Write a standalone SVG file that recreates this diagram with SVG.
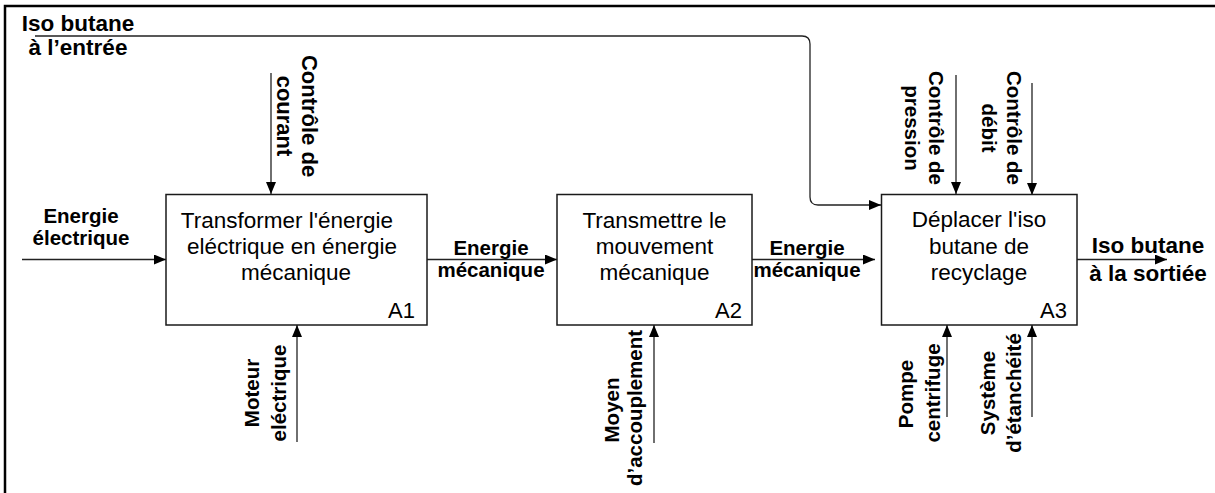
<svg xmlns="http://www.w3.org/2000/svg" width="1215" height="493" viewBox="0 0 1215 493">
  <defs>
    <marker id="arrow" markerUnits="userSpaceOnUse" markerWidth="12" markerHeight="10" refX="12" refY="5" orient="auto">
      <path d="M0,0 L12,5 L0,10 Z" fill="#000"/>
    </marker>
    <style>
      .frame { fill: none; stroke: #000; stroke-width: 2.5; }
      .box { fill: #fff; stroke: #1a1a1a; stroke-width: 1.5; }
      .conn { fill: none; stroke: #222; stroke-width: 1.3; marker-end: url(#arrow); }
      .t { font-family: "Liberation Sans", Arial, sans-serif; fill: #000; }
      .fn { font-size: 22.5px; text-anchor: middle; }
      .num { font-size: 22px; text-anchor: end; }
      .lbl { font-weight: bold; text-anchor: middle; }
      .big { font-size: 22.5px; }
      .mid { font-size: 20.5px; }
      .rot { font-size: 20.5px; }
    </style>
  </defs>

  <rect width="1215" height="493" fill="#fff"/>
  <!-- sheet frame (top and left edges) -->
  <path class="frame" d="M5,493 V6 H1215"/>

  <!-- connectors -->
  <g id="connectors">
    <!-- inputs / outputs -->
    <path class="conn" d="M35,36 H802 Q810,36 810,44 V197 Q810,205 818,205 H881"/>
    <path class="conn" d="M22,259.5 H166"/>
    <path class="conn" d="M427,259.5 H557"/>
    <path class="conn" d="M752,259.5 H875"/>
    <path class="conn" d="M1077,259.5 H1167"/>
    <!-- controls -->
    <path class="conn" d="M271,73 V194"/>
    <path class="conn" d="M956,75 V194"/>
    <path class="conn" d="M1032,83 V195"/>
    <!-- mechanisms -->
    <path class="conn" d="M297,442 V325"/>
    <path class="conn" d="M654,443 V325"/>
    <path class="conn" d="M947,417 V325"/>
    <path class="conn" d="M1032,417 V325"/>

    <!-- connector labels -->
    <g class="t lbl big">
      <text x="78" y="31">Iso butane</text>
      <text x="78" y="55">à l’entrée</text>
      <text x="1148" y="253">Iso butane</text>
      <text x="1148" y="281">à la sortiée</text>
    </g>
    <g class="t lbl mid">
      <text x="81" y="223">Energie</text>
      <text x="81" y="245">électrique</text>
      <text x="491" y="255">Energie</text>
      <text x="491" y="277">mécanique</text>
      <text x="807" y="255">Energie</text>
      <text x="807" y="277">mécanique</text>
    </g>
    <!-- vertical labels reading downwards (controls) -->
    <g class="t lbl">
      <text transform="translate(302,116) rotate(90)" font-size="22px">Contrôle de</text>
      <text transform="translate(277,116) rotate(90)" font-size="22px">courant</text>
      <text class="rot" transform="translate(928.5,128) rotate(90)">Contrôle de</text>
      <text class="rot" transform="translate(904.5,128) rotate(90)">pression</text>
      <text class="rot" transform="translate(1006.5,128) rotate(90)">Contrôle de</text>
      <text class="rot" transform="translate(982,128) rotate(90)">débit</text>
    </g>
    <!-- vertical labels reading upwards (mechanisms) -->
    <g class="t lbl rot">
      <text transform="translate(258.5,393) rotate(-90)">Moteur</text>
      <text transform="translate(285.5,393) rotate(-90)">eléctrique</text>
      <text transform="translate(619,410) rotate(-90)">Moyen</text>
      <text transform="translate(641.5,408) rotate(-90)">d’accouplement</text>
      <text transform="translate(913,394) rotate(-90)">Pompe</text>
      <text transform="translate(939.5,393) rotate(-90)">centrifuge</text>
      <text transform="translate(995,393) rotate(-90)">Système</text>
      <text transform="translate(1021,393) rotate(-90)">d’étanchéité</text>
    </g>
  </g>

  <!-- activity A1 -->
  <g id="A1">
    <rect class="box" x="166" y="194.5" width="261" height="130.5"/>
    <text class="t fn" x="287" y="228">Transformer l'énergie</text>
    <text class="t fn" x="292" y="254">eléctrique en énergie</text>
    <text class="t fn" x="296" y="280">mécanique</text>
    <text class="t num" x="415" y="318">A1</text>
  </g>

  <!-- activity A2 -->
  <g id="A2">
    <rect class="box" x="557" y="194.5" width="195" height="130.5"/>
    <text class="t fn" x="654.5" y="228">Transmettre le</text>
    <text class="t fn" x="654.5" y="254">mouvement</text>
    <text class="t fn" x="654.5" y="280">mécanique</text>
    <text class="t num" x="742" y="318">A2</text>
  </g>

  <!-- activity A3 -->
  <g id="A3">
    <rect class="box" x="881.5" y="194.5" width="195.5" height="130.5"/>
    <text class="t fn" x="979" y="227">Déplacer l'iso</text>
    <text class="t fn" x="979" y="253.5">butane de</text>
    <text class="t fn" x="979" y="280">recyclage</text>
    <text class="t num" x="1067" y="318">A3</text>
  </g>
</svg>
